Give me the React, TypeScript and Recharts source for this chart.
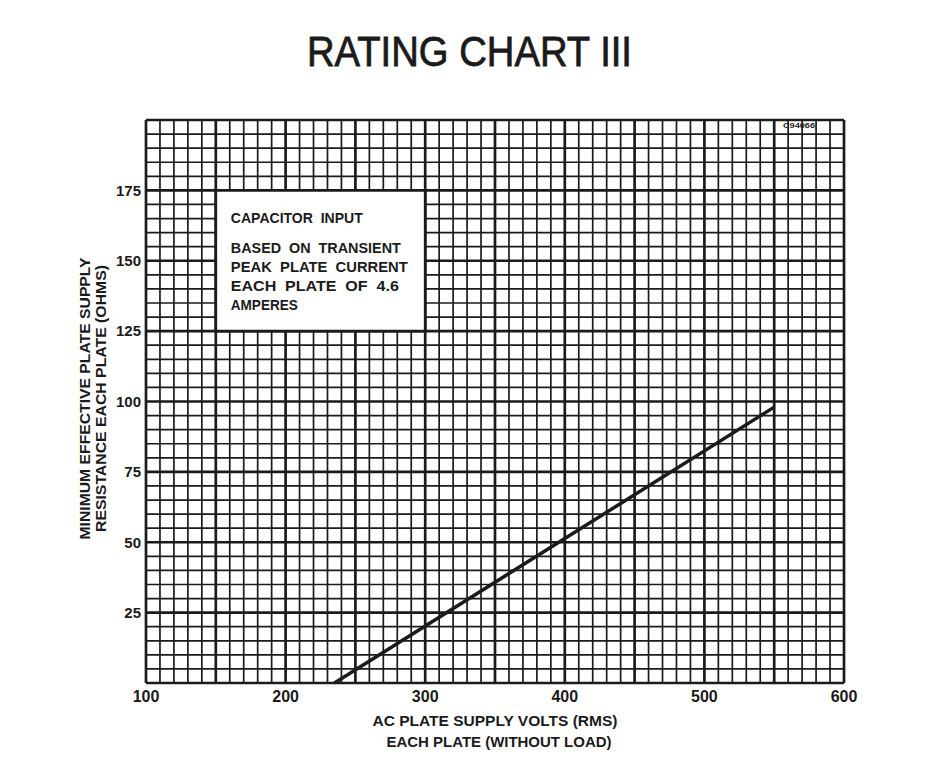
import React from 'react';
import { LineChart, Line, XAxis, YAxis, ReferenceLine, ReferenceArea } from 'recharts';

const X_TICKS = [100, 200, 300, 400, 500, 600];
const Y_TICKS = [25, 50, 75, 100, 125, 150, 175];

// rating line
const VOLTS = [235, 550];
const OHMS = [0, 98];

const NOTE_LINES = [
  'CAPACITOR  INPUT',
  'BASED  ON  TRANSIENT',
  'PEAK  PLATE  CURRENT',
  'EACH  PLATE  OF  4.6',
  'AMPERES',
];

const lineData = VOLTS.map((v, i) => ({ volts: v, ohms: OHMS[i] }));

// graph paper: 10 V / 5 ohm squares, heavy every 50 V / 25 ohm
const xGrid = Array.from({ length: 51 }, (_, i) => 100 + i * 10);
const yGrid = Array.from({ length: 41 }, (_, i) => i * 5);
const xMinor = xGrid.filter((v) => v % 50 !== 0);
const xMajor = xGrid.filter((v) => v % 50 === 0);
const yMinor = yGrid.filter((v) => v % 25 !== 0);
const yMajor = yGrid.filter((v) => v % 25 === 0);

const INK = '#1b1b1b';
const FONT = '"Liberation Sans", Arial, sans-serif';

const NoteText = (props: any) => {
  const vb = props.viewBox || { x: 215, y: 191, width: 210, height: 140 };
  const offsets = [32.5, 62.5, 82, 101, 119.5];
  const widths = [132, 170, 177, 168, 67];
  return (
    <g>
      {NOTE_LINES.map((t, i) => (
        <text
          key={i}
          x={vb.x + 15}
          y={vb.y + offsets[i]}
          fontFamily={FONT}
          fontWeight={700}
          fontSize={15}
          fill={INK}
          textLength={widths[i]}
          lengthAdjust="spacingAndGlyphs"
          style={{ whiteSpace: 'pre' }}
        >
          {t}
        </text>
      ))}
    </g>
  );
};

const YTitle = (props: any) => {
  const vb = props.viewBox || { x: 0, y: 120, width: 146, height: 563 };
  const cy = vb.y + vb.height / 2 - 3;
  const common = {
    textAnchor: 'middle' as const,
    fontFamily: FONT,
    fontWeight: 700,
    fontSize: 14,
    fill: INK,
    lengthAdjust: 'spacingAndGlyphs',
  };
  return (
    <g>
      <text x={90} y={cy} transform={`rotate(-90 90 ${cy})`} textLength={282} {...common}>
        MINIMUM EFFECTIVE PLATE SUPPLY
      </text>
      <text x={106} y={cy} transform={`rotate(-90 106 ${cy})`} textLength={267} {...common}>
        RESISTANCE EACH PLATE (OHMS)
      </text>
    </g>
  );
};

const XTitle = (props: any) => {
  const vb = props.viewBox || { x: 146, y: 683, width: 698, height: 30 };
  const cx = vb.x + vb.width / 2;
  const common = {
    textAnchor: 'middle' as const,
    fontFamily: FONT,
    fontWeight: 700,
    fontSize: 15.5,
    fill: INK,
    lengthAdjust: 'spacingAndGlyphs',
  };
  return (
    <g>
      <text x={cx} y={vb.y + 42.5} textLength={245} {...common}>
        AC PLATE SUPPLY VOLTS (RMS)
      </text>
      <text x={cx + 4} y={vb.y + 63.5} textLength={225} {...common}>
        EACH PLATE (WITHOUT LOAD)
      </text>
    </g>
  );
};

const tickStyle = { fill: INK, fontFamily: FONT, fontWeight: 700 };

export default function App() {
  return (
    <div style={{ position: 'absolute', left: 0, top: 0, width: 950, height: 784, background: '#fff' }}>
      <LineChart
        width={950}
        height={784}
        data={lineData}
        margin={{ top: 120, right: 106, bottom: 71, left: 0 }}
      >
        <XAxis
          type="number"
          dataKey="volts"
          domain={[100, 600]}
          ticks={X_TICKS}
          interval={0}
          axisLine={false}
          tickLine={false}
          tickSize={0}
          tickMargin={8}
          height={30}
          tick={{ ...tickStyle, fontSize: 16 }}
          label={{ content: XTitle }}
        />
        <YAxis
          type="number"
          domain={[0, 200]}
          ticks={Y_TICKS}
          interval={0}
          axisLine={false}
          tickLine={false}
          tickSize={0}
          tickMargin={5}
          width={146}
          tick={{ ...tickStyle, fontSize: 15 }}
          label={{ content: YTitle }}
        />
        {xMinor.map((v) => (
          <ReferenceLine key={`xm${v}`} x={v} stroke={INK} strokeWidth={1.7} zIndex={10} />
        ))}
        {yMinor.map((v) => (
          <ReferenceLine key={`ym${v}`} y={v} stroke={INK} strokeWidth={1.7} zIndex={10} />
        ))}
        {xMajor.map((v) => (
          <ReferenceLine key={`xM${v}`} x={v} stroke={INK} strokeWidth={2.7} zIndex={20} />
        ))}
        {yMajor.map((v) => (
          <ReferenceLine key={`yM${v}`} y={v} stroke={INK} strokeWidth={2.7} zIndex={20} />
        ))}
        <ReferenceArea
          x1={150}
          x2={300}
          y1={125}
          y2={175}
          fill="#ffffff"
          fillOpacity={1}
          stroke={INK}
          strokeWidth={2.7}
          zIndex={30}
          label={{ content: NoteText }}
        />
        <Line
          type="linear"
          dataKey="ohms"
          stroke={INK}
          strokeWidth={3.5}
          dot={false}
          activeDot={false}
          isAnimationActive={false}
          zIndex={40}
        />
      </LineChart>
      <svg
        width={950}
        height={784}
        style={{ position: 'absolute', left: 0, top: 0, pointerEvents: 'none' }}
      >
        <text
          x={469.5}
          y={66}
          textAnchor="middle"
          fontFamily={FONT}
          fontSize={43}
          fill={INK}
          textLength={325}
          lengthAdjust="spacingAndGlyphs"
          stroke={INK}
          strokeWidth={0.8}
        >
          RATING CHART III
        </text>
        <text
          x={783}
          y={128}
          fontFamily={FONT}
          fontWeight={700}
          fontSize={7.5}
          fill={INK}
          textLength={32}
          lengthAdjust="spacingAndGlyphs"
        >
          C94066
        </text>
      </svg>
    </div>
  );
}
